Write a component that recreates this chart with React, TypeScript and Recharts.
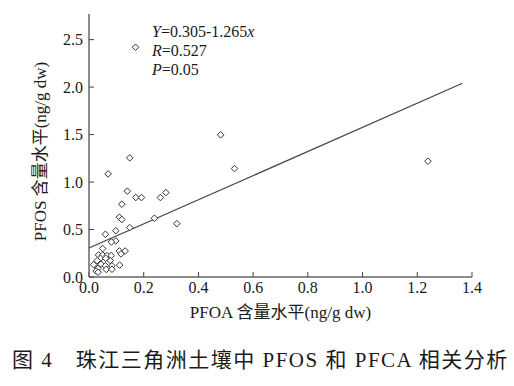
import {
  ComposedChart,
  Scatter,
  XAxis,
  YAxis
} from "recharts";

// PFOA (x) and PFOS (y) concentrations, ng/g dw
const pfoa = [
  0.17, 0.481, 0.149, 1.239, 0.532, 0.07, 0.14, 0.281, 0.171, 0.192, 0.261,
  0.12, 0.111, 0.239, 0.12, 0.321, 0.149, 0.098, 0.06, 0.098, 0.082, 0.05,
  0.111, 0.132, 0.117, 0.035, 0.05, 0.066, 0.081, 0.042, 0.061, 0.03, 0.078,
  0.017, 0.044, 0.06, 0.084, 0.112, 0.032, 0.063, 0.084, 0.026, 0.033
];
const pfos = [
  2.42, 1.498, 1.255, 1.22, 1.142, 1.086, 0.904, 0.889, 0.837, 0.837, 0.837,
  0.767, 0.63, 0.619, 0.605, 0.562, 0.52, 0.488, 0.45, 0.38, 0.369, 0.3,
  0.274, 0.274, 0.243, 0.232, 0.232, 0.225, 0.225, 0.197, 0.197, 0.172, 0.172,
  0.13, 0.135, 0.118, 0.118, 0.125, 0.09, 0.08, 0.082, 0.063, 0.05
];

// regression line end points (Y=0.305+1.265x)
const fitX = [0, 1.365];
const fitY = [0.305, 2.04];

const xTicks = [0, 0.2, 0.4, 0.6, 0.8, 1.0, 1.2, 1.4];
const yTicks = [0, 0.5, 1.0, 1.5, 2.0, 2.5];

const points = pfoa.map((x, i) => ({ x, y: pfos[i] }));
const fitLine = fitX.map((x, i) => ({ x, y: fitY[i] }));

const serif = '"Liberation Serif", "Noto Sans CJK SC", serif';
const tickStyle = { fill: "#1a1a1a", fontSize: 16, fontFamily: serif };

const Diamond = (props: any) => {
  const { cx, cy } = props;
  const r = 3.3;
  return (
    <path
      d={`M${cx},${cy - r}L${cx + r},${cy}L${cx},${cy + r}L${cx - r},${cy}Z`}
      fill="#fff"
      stroke="#333"
      strokeWidth={1}
    />
  );
};

const YLabel = (props: any) => {
  const vb = props.viewBox || { x: 0, y: 0, width: 0, height: 0 };
  const cx = vb.x + 40;
  const cy = vb.y + vb.height / 2 + 6;
  return (
    <text
      x={cx}
      y={cy}
      transform={`rotate(-90 ${cx} ${cy})`}
      textAnchor="middle"
      dominantBaseline="central"
      fill="#1a1a1a"
      fontSize={17}
      fontFamily={serif}
    >
      PFOS 含量水平(ng/g dw)
    </text>
  );
};

const App = () => {
  return (
    <div
      style={{
        position: "absolute",
        left: 0,
        top: 0,
        width: 514,
        height: 386,
        background: "#fff",
        fontFamily: serif
      }}
    >
      <ComposedChart
        width={514}
        height={330}
        margin={{ top: 14, right: 42, bottom: 0, left: 0 }}
      >
        <XAxis
          xAxisId="b"
          type="number"
          dataKey="x"
          domain={[0, 1.4]}
          ticks={xTicks}
          tickFormatter={(v: number) => v.toFixed(1)}
          tick={tickStyle}
          tickSize={-5}
          tickMargin={10}
          height={53}
          axisLine={{ stroke: "#666", strokeWidth: 1.5 }}
          tickLine={{ stroke: "#444" }}
          label={{
            value: "PFOA 含量水平(ng/g dw)",
            position: "insideBottom",
            offset: 12,
            style: { fill: "#1a1a1a", fontSize: 17, fontFamily: serif }
          }}
        />
        <XAxis
          xAxisId="t"
          orientation="top"
          type="number"
          dataKey="x"
          domain={[0, 1.4]}
          height={0}
          tick={false}
          tickLine={false}
          axisLine={{ stroke: "#666", strokeWidth: 1.5 }}
        />
        <YAxis
          yAxisId="l"
          type="number"
          dataKey="y"
          domain={[0, 2.77]}
          ticks={yTicks}
          tickFormatter={(v: number) => v.toFixed(1)}
          tick={tickStyle}
          tickSize={-5}
          tickMargin={11}
          width={89}
          axisLine={{ stroke: "#666", strokeWidth: 1.5 }}
          tickLine={{ stroke: "#444" }}
          label={YLabel}
        />
        <YAxis
          yAxisId="r"
          orientation="right"
          type="number"
          dataKey="y"
          domain={[0, 2.77]}
          width={0}
          tick={false}
          tickLine={false}
          axisLine={{ stroke: "#666", strokeWidth: 1.5 }}
        />
        <Scatter
          xAxisId="b"
          yAxisId="l"
          data={fitLine}
          line={{ stroke: "#444", strokeWidth: 1.2 }}
          shape={() => <g />}
          isAnimationActive={false}
        />
        <Scatter
          xAxisId="b"
          yAxisId="l"
          data={points}
          shape={Diamond}
          isAnimationActive={false}
        />
      </ComposedChart>

      <div
        style={{
          position: "absolute",
          left: 152,
          top: 22,
          fontSize: 16,
          lineHeight: "19px",
          color: "#1a1a1a"
        }}
      >
        <div>
          <i>Y</i>=0.305-1.265<i>x</i>
        </div>
        <div>
          <i>R</i>=0.527
        </div>
        <div>
          <i>P</i>=0.05
        </div>
      </div>

      <div
        style={{
          position: "absolute",
          left: 12,
          top: 347,
          fontSize: 21,
          letterSpacing: 1.5,
          lineHeight: "26px",
          color: "#1a1a1a",
          whiteSpace: "pre"
        }}
      >
        图 4　珠江三角洲土壤中 PFOS 和 PFCA 相关分析
      </div>
    </div>
  );
};

export default App;
